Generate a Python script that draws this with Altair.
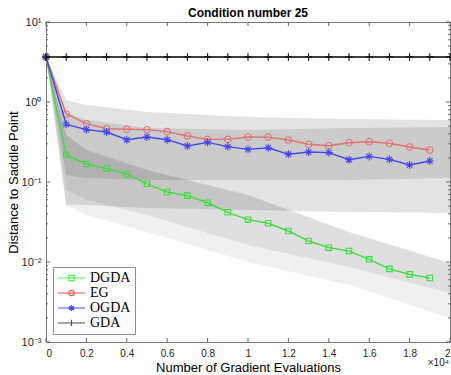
import altair as alt
import pandas as pd

# ---------------- data ----------------
iters = [0, 1000, 2000, 3000, 4000, 5000, 6000, 7000, 8000, 9000, 10000,
         11000, 12000, 13000, 14000, 15000, 16000, 17000, 18000, 19000]
dgda = [3.65, 0.219, 0.168, 0.147, 0.126, 0.095, 0.075, 0.0675, 0.055, 0.0418,
        0.0338, 0.0305, 0.0244, 0.0183, 0.0151, 0.0137, 0.0108, 0.0082, 0.0070, 0.0063]
eg = [3.65, 0.708, 0.536, 0.464, 0.456, 0.451, 0.426, 0.376, 0.341, 0.341,
      0.365, 0.364, 0.335, 0.296, 0.284, 0.310, 0.319, 0.305, 0.274, 0.251]
ogda = [3.65, 0.526, 0.451, 0.422, 0.338, 0.365, 0.338, 0.282, 0.313, 0.277,
        0.256, 0.268, 0.222, 0.237, 0.233, 0.190, 0.209, 0.192, 0.163, 0.183]
gda_x = [0, 1000, 2000, 3000, 4000, 5000, 6000, 7000, 8000, 9000, 10000,
         11000, 12000, 13000, 14000, 15000, 16000, 17000, 18000, 19000, 20000]
gda = [3.65, 3.65, 3.65, 3.65, 3.65, 3.65, 3.65, 3.65, 3.65, 3.65, 3.65,
       3.65, 3.65, 3.65, 3.65, 3.65, 3.65, 3.65, 3.65, 3.65, 3.65]

# shaded spread bands
band_x = [0, 1000, 2000, 5000, 10000, 15000, 20000]
upper_outer_hi = [3.65, 1.06, 0.917, 0.75, 0.65, 0.613, 0.596]
upper_outer_lo = [3.65, 0.0516, 0.0516, 0.0473, 0.0447, 0.0422, 0.041]
upper_inner_hi = [3.65, 0.75, 0.596, 0.473, 0.447, 0.473, 0.487]
upper_inner_lo = [3.65, 0.122, 0.112, 0.106, 0.106, 0.106, 0.112]
lower_top = [3.65, 0.387, 0.251, 0.141, 0.0688, 0.0237, 0.00972]
lower_solid_bottom = [3.65, 0.0794, 0.0596, 0.0387, 0.0163, 0.00866, 0.0041]
lower_fade_bottom = [3.65, 0.0516, 0.0387, 0.0237, 0.0100, 0.00516, 0.0020]

names = ["DGDA", "EG", "OGDA", "GDA"]
colors = ["#00ee00", "#ff0000", "#0000ff", "#000000"]
x_ticks = [0, 2000, 4000, 6000, 8000, 10000, 12000, 14000, 16000, 18000, 20000]
y_ticks = [0.001, 0.01, 0.1, 1, 10]
y_minor = [m * 10.0 ** e for e in range(-3, 1) for m in range(2, 10)]

W, H = 404, 320

# ---------------- encodings ----------------
xscale = alt.Scale(domain=[0, 20000], nice=False, zero=False)
yscale = alt.Scale(type="log", domain=[0.001, 10], nice=False)

x_axis = alt.Axis(values=x_ticks, labelExpr="'' + datum.value/10000",
                  title="Number of Gradient Evaluations", ticks=False,
                  domain=False, grid=False, labelPadding=6, titlePadding=3)
y_axis = alt.Axis(values=y_ticks,
                  labelExpr="datum.value == 10 ? '10¹' : datum.value == 1 ? '10⁰' : "
                            "datum.value == 0.1 ? '10⁻¹' : datum.value == 0.01 ? '10⁻²' : '10⁻³'",
                  title="Distance to Saddle Point", ticks=False, domain=False,
                  grid=False, labelPadding=5, titlePadding=1, labelFontSize=11)


def X(field):
    return alt.X(field, type="quantitative", scale=xscale, axis=x_axis)


def Y(field):
    return alt.Y(field, type="quantitative", scale=yscale, axis=y_axis)


bands = pd.DataFrame({
    "x": band_x, "uoh": upper_outer_hi, "uol": upper_outer_lo,
    "uih": upper_inner_hi, "uil": upper_inner_lo, "lt": lower_top,
    "lsb": lower_solid_bottom, "lfb": lower_fade_bottom,
})

layers = []
layers.append(alt.Chart(bands).mark_area(color="#000000", opacity=0.06).encode(
    x=X("x"), y=Y("lfb"), y2="lt"))
layers.append(alt.Chart(bands).mark_area(color="#000000", opacity=0.07).encode(
    x=X("x"), y=Y("lsb"), y2="lt"))
layers.append(alt.Chart(bands).mark_area(color="#000000", opacity=0.11).encode(
    x=X("x"), y=Y("uol"), y2="uoh"))
layers.append(alt.Chart(bands).mark_area(color="#000000", opacity=0.10).encode(
    x=X("x"), y=Y("uil"), y2="uih"))

square = "square"
circle = "circle"
asterisk = "M-1,0L1,0M0,-1L0,1M-0.7,-0.7L0.7,0.7M-0.7,0.7L0.7,-0.7"
plus = "M-1,0L1,0M0,-1L0,1"

series = [
    (iters, dgda, "#3ddc3d", square, 30),
    (iters, eg, "#e07272", circle, 42),
    (iters, ogda, "#4646ee", asterisk, 64),
    (gda_x, gda, "#000000", plus, 56),
]
for xs, ys, col, shp, sz in series:
    df = pd.DataFrame({"x": xs, "y": ys})
    base = alt.Chart(df)
    layers.append(base.mark_line(color=col, strokeWidth=1.4).encode(x=X("x"), y=Y("y")))
    layers.append(base.mark_point(color=col, shape=shp, size=sz, filled=False,
                                  strokeWidth=1.1, opacity=1).encode(x=X("x"), y=Y("y")))

# inward tick marks (MATLAB box style)
xt = pd.DataFrame({"t": x_ticks})
layers.append(alt.Chart(xt).mark_rule(color="#666", strokeWidth=1).encode(
    x=X("t"), y=alt.value(H), y2=alt.value(H - 4)))
layers.append(alt.Chart(xt).mark_rule(color="#666", strokeWidth=1).encode(
    x=X("t"), y=alt.value(0), y2=alt.value(4)))
yt = pd.DataFrame({"t": y_ticks})
layers.append(alt.Chart(yt).mark_rule(color="#666", strokeWidth=1).encode(
    y=Y("t"), x=alt.value(0), x2=alt.value(4)))
layers.append(alt.Chart(yt).mark_rule(color="#666", strokeWidth=1).encode(
    y=Y("t"), x=alt.value(W), x2=alt.value(W - 4)))
ym = pd.DataFrame({"t": y_minor})
layers.append(alt.Chart(ym).mark_rule(color="#666", strokeWidth=1).encode(
    y=Y("t"), x=alt.value(0), x2=alt.value(2)))
layers.append(alt.Chart(ym).mark_rule(color="#666", strokeWidth=1).encode(
    y=Y("t"), x=alt.value(W), x2=alt.value(W - 2)))

# x10^4 multiplier
layers.append(alt.Chart(pd.DataFrame({"a": [0]})).mark_text(
    text="×10⁴", font="Liberation Sans", fontSize=10, color="#262626", align="right",
    baseline="middle").encode(x=alt.value(W - 1), y=alt.value(H + 21)))

# legend layer (no visible marks)
leg_paths = [
    "M-1,0L3.5,0M0.8,-0.45L1.7,-0.45L1.7,0.45L0.8,0.45Z",
    "M-1,0L3.5,0M0.8,0A0.45,0.45 0 1,0 1.7,0A0.45,0.45 0 1,0 0.8,0",
    "M-1,0L3.5,0M1.25,-0.5L1.25,0.5M0.82,-0.27L1.68,0.27M0.82,0.27L1.68,-0.27",
    "M-1,0L3.5,0M1.25,-0.55L1.25,0.55",
]
leg = alt.Chart(pd.DataFrame({"name": names})).transform_filter("false").mark_point(
    filled=False, size=144, strokeWidth=1.2).encode(
    color=alt.Color("name:N", scale=alt.Scale(domain=names, range=colors),
                    legend=alt.Legend(title=None, orient="none", legendX=7, legendY=245,
                                      padding=4, strokeColor="#8c8c8c", fillColor="white",
                                      labelFont="Liberation Serif", labelFontSize=14,
                                      labelColor="#000000", symbolSize=144,
                                      symbolStrokeWidth=1.2, labelOffset=19, rowPadding=1)),
    shape=alt.Shape("name:N", scale=alt.Scale(domain=names, range=leg_paths), legend=None),
)
layers.append(leg)

chart = alt.layer(*layers).properties(
    width=W, height=H,
    title=alt.TitleParams("Condition number 25", font="Liberation Sans", fontSize=12,
                          fontWeight="bold", color="#000000", anchor="middle",
                          offset=-4),
    padding={"left": 46, "top": 22, "right": 1, "bottom": 33},
    autosize=alt.AutoSizeParams(type="none"),
).configure_view(stroke="#777777", strokeWidth=1).configure_axis(
    labelFont="Liberation Sans", labelFontSize=10, labelColor="#262626",
    titleFont="Liberation Sans", titleFontSize=13, titleFontWeight="normal",
    titleColor="#000000",
)

chart.save("out.html", embed_options={"renderer": "svg", "actions": False})
